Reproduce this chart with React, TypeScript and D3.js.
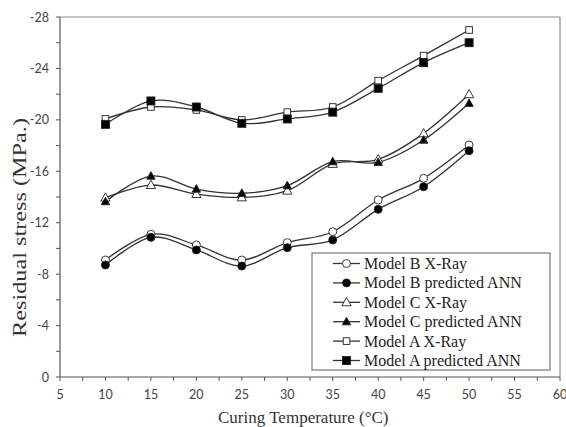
import React from "react";
import * as d3 from "d3";

const temps = [10, 15, 20, 25, 30, 35, 40, 45, 50];
const modelBXray = [-9.1, -11.1, -10.27, -9.1, -10.45, -11.3, -13.77, -15.45, -18.04];
const modelBAnn = [-8.71, -10.86, -9.88, -8.63, -10.06, -10.66, -13.04, -14.8, -17.6];
const modelCXray = [-13.95, -14.93, -14.23, -13.97, -14.49, -16.57, -16.93, -18.95, -21.99];
const modelCAnn = [-13.64, -15.63, -14.62, -14.29, -14.88, -16.75, -16.7, -18.43, -21.29];
const modelAXray = [-20.07, -21.0, -20.77, -19.99, -20.6, -21.0, -23.05, -25.0, -26.99];
const modelAAnn = [-19.65, -21.47, -21.0, -19.73, -20.07, -20.6, -22.45, -24.45, -26.0];

const seriesNames = [
  "Model B X-Ray",
  "Model B predicted ANN",
  "Model C X-Ray",
  "Model C predicted ANN",
  "Model A X-Ray",
  "Model A predicted ANN",
];
const seriesValues = [modelBXray, modelBAnn, modelCXray, modelCAnn, modelAXray, modelAAnn];
const seriesMarkers = ["circle-open", "circle-fill", "tri-open", "tri-fill", "sq-open", "sq-fill"];

const xTicks = [5, 10, 15, 20, 25, 30, 35, 40, 45, 50, 55, 60];
const yTicks = [0, -4, -8, -12, -16, -20, -24, -28];

const W = 566;
const H = 427;
const left = 60, right = 560, top = 17, bottom = 377;
const serif = "'Liberation Serif', 'Times New Roman', serif";

function Marker({ type, x, y }: { type: string; x: number; y: number }) {
  const stroke = "#222";
  if (type.startsWith("circle")) {
    return <circle cx={x} cy={y} r={4} fill={type === "circle-fill" ? "#000" : "#fff"} stroke={stroke} strokeWidth={0.9} />;
  }
  if (type.startsWith("tri")) {
    const s = type === "tri-fill" ? 4.2 : 4.6;
    const p = `${x},${y - s * 1.05} ${x - s},${y + s * 0.75} ${x + s},${y + s * 0.75}`;
    return <polygon points={p} fill={type === "tri-fill" ? "#000" : "#fff"} stroke={stroke} strokeWidth={0.9} />;
  }
  const s = type === "sq-fill" ? 4 : 3.3;
  return <rect x={x - s} y={y - s} width={2 * s} height={2 * s} fill={type === "sq-fill" ? "#000" : "#fff"} stroke={stroke} strokeWidth={0.9} />;
}

export default function App() {
  const x = d3.scaleLinear().domain([5, 60]).range([left, right]);
  const y = d3.scaleLinear().domain([0, -28]).range([bottom, top]);
  const line = d3
    .line<number>()
    .x((_, i) => x(temps[i]))
    .y((d) => y(d))
    .curve(d3.curveCardinal.tension(0));

  const xMinor = d3.range(5, 60.01, 2.5);
  const yMinor = d3.range(0, -28.01, -2);

  const legX = 312, legY = 253, legW = 238, legH = 117;
  const legRow = 19.4;

  return (
    <svg width={W} height={H} style={{ position: "absolute", left: 0, top: 0 }}>
      <rect x={0} y={0} width={W} height={H} fill="#fff" />
      <line x1={left} x2={right} y1={top} y2={top} stroke="#8a8a8a" strokeWidth={1.2} />
      <line x1={right} x2={right} y1={top} y2={bottom} stroke="#8a8a8a" strokeWidth={1.2} />
      <line x1={left} x2={left} y1={top} y2={bottom} stroke="#555" strokeWidth={1.2} />
      <line x1={left} x2={right} y1={bottom} y2={bottom} stroke="#555" strokeWidth={1.2} />
      {xMinor.map((t) => (
        <line key={"xt" + t} x1={x(t)} x2={x(t)} y1={bottom} y2={bottom + 4} stroke="#555" strokeWidth={1} />
      ))}
      {yMinor.map((t) => (
        <line key={"yt" + t} x1={left - 4} x2={left} y1={y(t)} y2={y(t)} stroke="#555" strokeWidth={1} />
      ))}
      {xTicks.map((t) => (
        <text key={"xl" + t} x={x(t)} y={399} textAnchor="middle" fontFamily="Lato, 'Open Sans', sans-serif" fontSize={12.5} fill="#444">
          {t}
        </text>
      ))}
      {yTicks.map((t) => (
        <text key={"yl" + t} x={49} y={y(t) + 4.5} textAnchor="end" fontFamily="Lato, 'Open Sans', sans-serif" fontSize={12.5} fill="#444">
          {t}
        </text>
      ))}
      <text x={218} y={423} fontFamily={serif} fontSize={17} fill="#333">
        Curing Temperature (°C)
      </text>
      <text
        transform={`translate(26, 337) rotate(-90)`}
        textLength={219}
        lengthAdjust="spacingAndGlyphs"
        fontFamily={serif}
        fontSize={18.5}
        fill="#333"
      >
        Residual stress (MPa.)
      </text>
      {seriesValues.map((vals, si) => (
        <path key={"s" + si} d={line(vals) || ""} fill="none" stroke="#333" strokeWidth={1.3} />
      ))}
      {seriesValues.map((vals, si) => (
        <g key={"m" + si}>
          {vals.map((v, i) => (
            <Marker key={i} type={seriesMarkers[si]} x={x(temps[i])} y={y(v)} />
          ))}
        </g>
      ))}
      <rect x={legX} y={legY} width={legW} height={legH} fill="#fff" stroke="#777" strokeWidth={1.2} />
      {seriesNames.map((n, i) => {
        const cy = legY + 10.5 + i * legRow;
        return (
          <g key={"l" + i}>
            <line x1={333} x2={360} y1={cy} y2={cy} stroke="#333" strokeWidth={1.3} />
            <Marker type={seriesMarkers[i]} x={346.5} y={cy} />
            <text x={364} y={cy + 5.5} fontFamily={serif} fontSize={16} fill="#222">
              {n}
            </text>
          </g>
        );
      })}
    </svg>
  );
}
